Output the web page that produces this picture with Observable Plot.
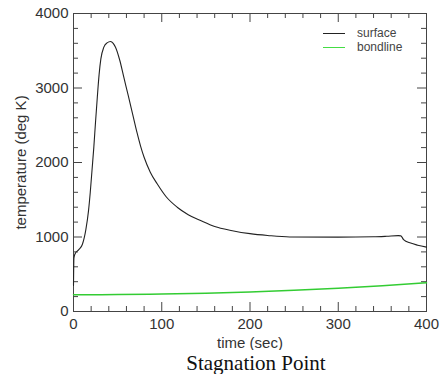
<!DOCTYPE html>
<html><head><meta charset="utf-8">
<script src="https://cdn.jsdelivr.net/npm/d3@7"></script>
<script src="https://cdn.jsdelivr.net/npm/@observablehq/plot@0.6"></script>
<style>
body{margin:0;background:#fff}
#wrap{position:relative;width:442px}
#title{font-family:"Liberation Serif","Times New Roman",serif;font-size:21px;line-height:22px;margin-top:2px;text-align:center;width:442px;padding-left:70px;box-sizing:border-box;color:#111}
#legend{position:absolute;left:323px;top:26px;font-family:"Liberation Sans",Arial,sans-serif;font-size:12px;color:#444}
#legend div{display:flex;align-items:center;height:14px}
#legend span.l{display:inline-block;width:22px;height:0;margin-right:12px}
</style>
</head><body>
<div id="wrap"><div id="chart"></div>
<div id="legend"><div><span class="l" style="border-top:1px solid #222"></span>surface</div><div><span class="l" style="border-top:1.5px solid #44dd44"></span>bondline</div></div>
</div>
<div id="title">Stagnation Point</div>
<script>
const surfaceTime = [0, 0.5, 2, 6, 10, 14, 17, 19, 21, 23, 25, 27, 29, 31, 34.4, 38, 42, 45, 47.6, 52.5, 57, 62, 67, 72, 76, 80, 87, 94.8, 105, 117.5, 130, 144, 160, 180, 200, 220, 245, 300, 340, 355, 368, 371, 374, 382, 390, 400];
const surfaceTemp = [350, 720, 780, 830, 900, 1100, 1350, 1600, 1900, 2200, 2550, 2880, 3180, 3390, 3548, 3605, 3625, 3600, 3548, 3369, 3145, 2900, 2650, 2400, 2220, 2070, 1870, 1714, 1540, 1400, 1300, 1221, 1140, 1085, 1045, 1020, 1000, 998, 1003, 1010, 1018, 1015, 965, 918, 890, 864];
const bondTime = [0, 50, 100, 150, 200, 250, 300, 350, 400];
const bondTemp = [225, 228, 235, 245, 262, 285, 312, 345, 385];
const xMajor = [0, 100, 200, 300, 400];
const xMinor = [20, 40, 60, 80, 120, 140, 160, 180, 220, 240, 260, 280, 320, 340, 360, 380];
const yMajor = [0, 1000, 2000, 3000, 4000];
const yMinor = [200, 400, 600, 800, 1200, 1400, 1600, 1800, 2200, 2400, 2600, 2800, 3200, 3400, 3600, 3800];

const surface = surfaceTime.map((t, i) => ({t, v: surfaceTemp[i]}));
const bond = bondTime.map((t, i) => ({t, v: bondTemp[i]}));

const W = 442, H = 350, mL = 73, mR = 16, mT = 13, mB = 39;
const plotW = W - mL - mR, plotH = H - mT - mB;
const tickColor = "#444";
const xt = (vals, side, len) => Plot.tickX(vals, {x: d => d, stroke: tickColor, strokeWidth: 1, [side === "bottom" ? "insetTop" : "insetBottom"]: plotH - len});
const yt = (vals, side, len) => Plot.tickY(vals, {y: d => d, stroke: tickColor, strokeWidth: 1, [side === "left" ? "insetRight" : "insetLeft"]: plotW - len});
const chart = Plot.plot({
  width: W,
  height: H,
  marginLeft: mL,
  marginRight: mR,
  marginTop: mT,
  marginBottom: mB,
  style: {fontFamily: "'Liberation Sans', Arial, sans-serif", color: "#333", background: "#fff"},
  x: {domain: [0, 400]},
  y: {domain: [0, 4000]},
  marks: [
    Plot.frame({stroke: tickColor, strokeWidth: 1}),
    Plot.axisX(xMajor, {anchor: "bottom", tickSize: 0, tickPadding: 7, fontSize: 15, tickFormat: "d", label: "time (sec)", labelAnchor: "center", labelOffset: 36, labelArrow: "none"}),
    Plot.axisY(yMajor, {anchor: "left", tickSize: 0, tickPadding: 5, fontSize: 15, tickFormat: "d", label: "temperature (deg K)", labelAnchor: "center", labelOffset: 58, labelArrow: "none"}),
    xt(xMajor, "bottom", 9),
    xt(xMinor, "bottom", 5),
    xt(xMajor, "top", 9),
    xt(xMinor, "top", 5),
    yt(yMajor, "left", 9),
    yt(yMinor, "left", 5),
    yt(yMajor, "right", 9),
    yt(yMinor, "right", 5),
    Plot.line(bond, {x: "t", y: "v", stroke: "#33cc33", strokeWidth: 1.5, curve: "monotone-x"}),
    Plot.line(surface, {x: "t", y: "v", stroke: "#222", strokeWidth: 1.1, curve: "monotone-x"})
  ]
});
document.getElementById("chart").append(chart);
</script>
</body></html>
